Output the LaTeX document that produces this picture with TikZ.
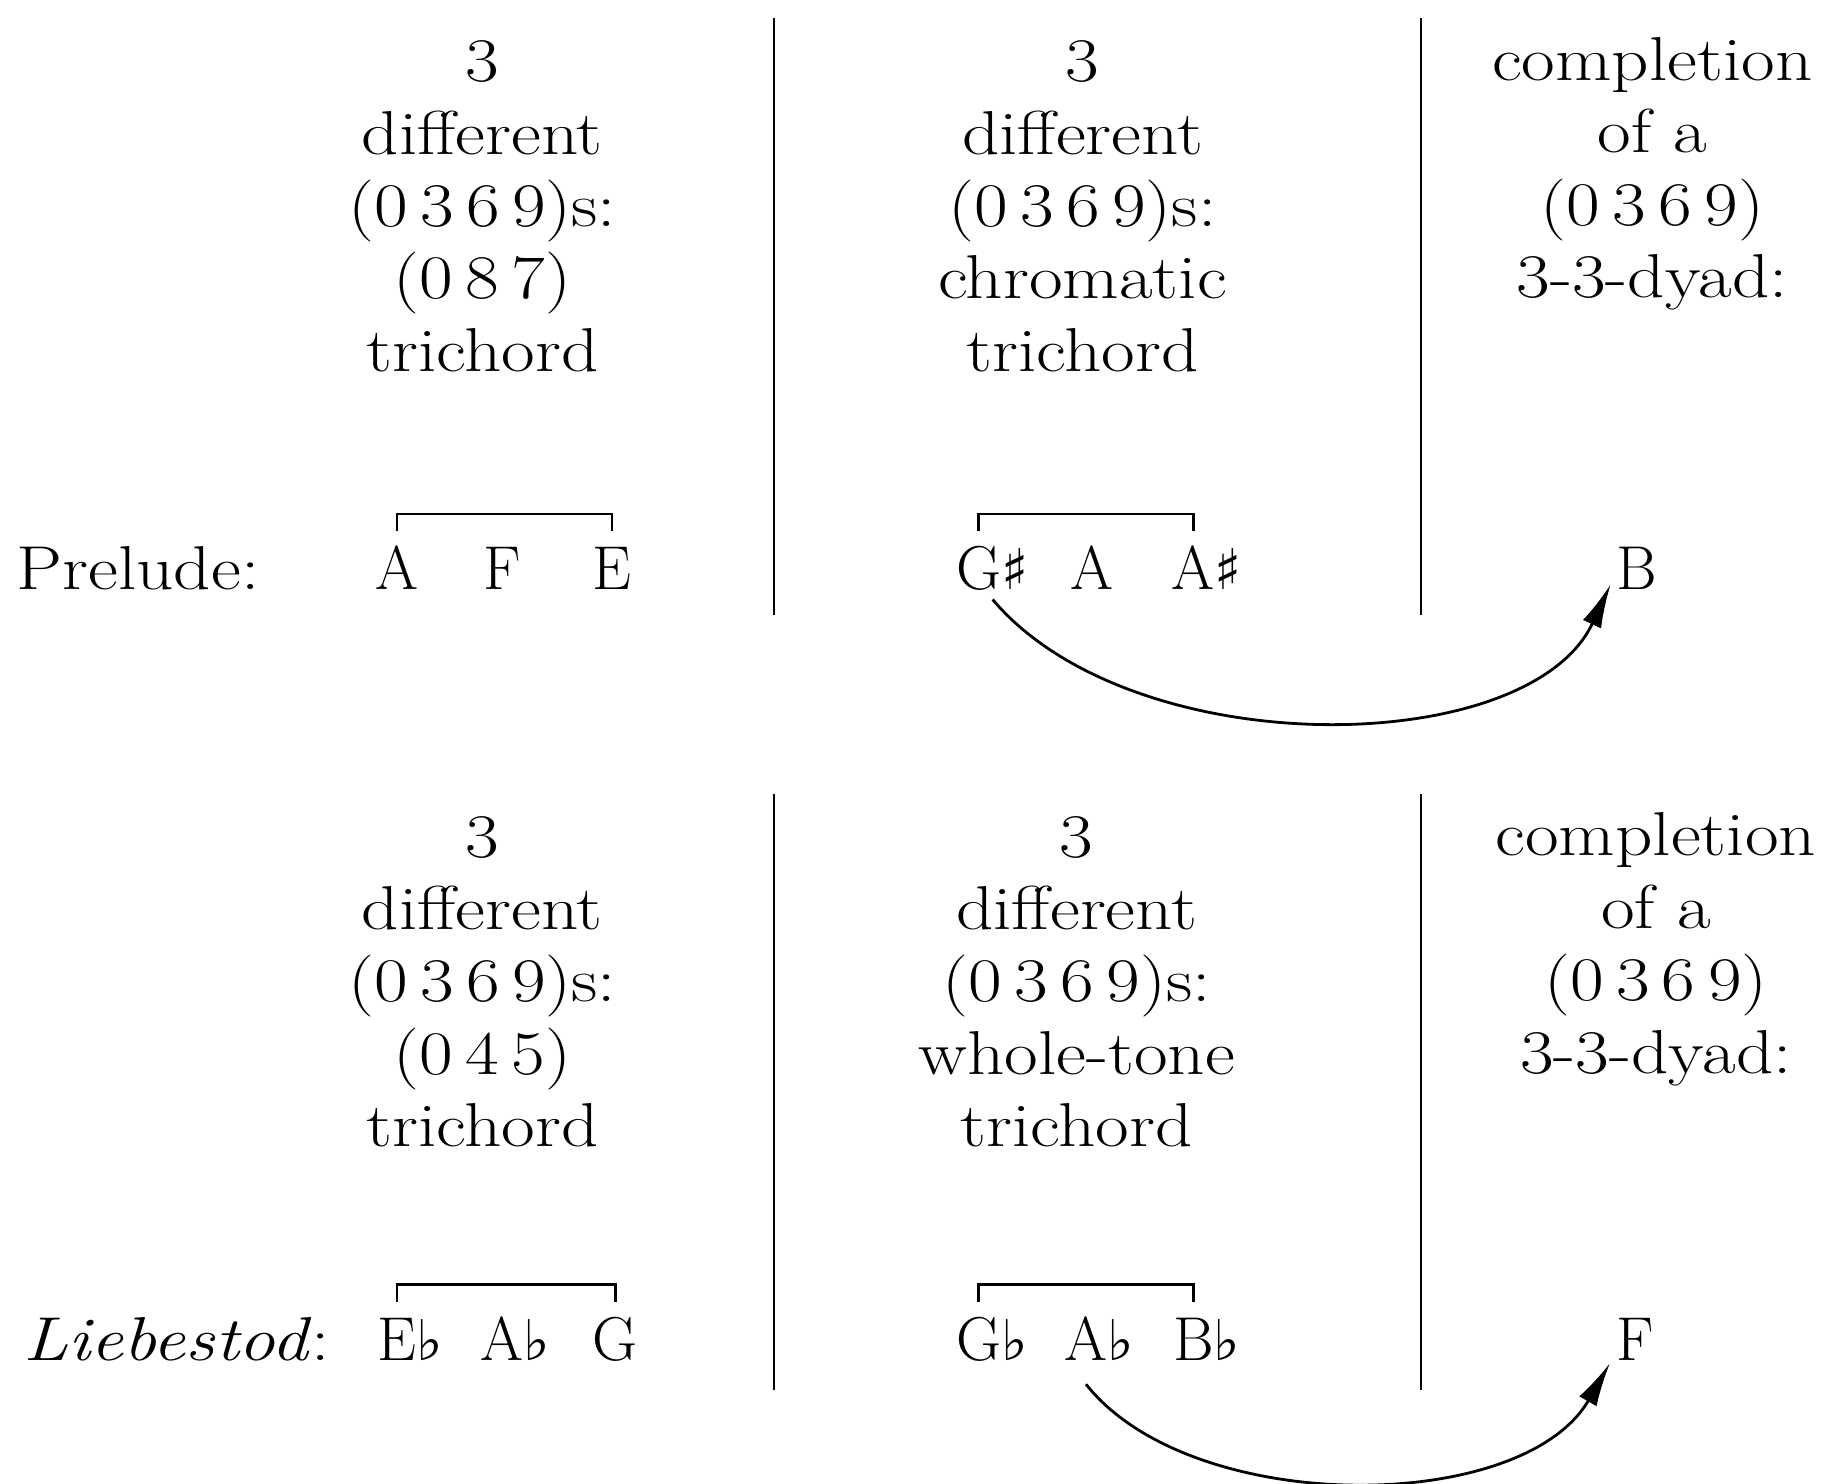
\documentclass[tikz,border=0pt]{standalone}
\usepackage{fontspec}
\newfontfamily\accfont{DejaVu Sans}
\newfontfamily\widerm{Latin Modern Roman}[FakeStretch=1.18]
\usetikzlibrary{arrows.meta}
\newcommand{\shp}{\rlap{\accfont\fontsize{28}{28}\selectfont ♯}}
\newcommand{\flt}{\rlap{\accfont\fontsize{28}{28}\selectfont ♭}}
\newcommand{\widefont}{\widerm\fontsize{31}{36.2}\selectfont}
\newcommand{\dsp}{\hspace{0.2em}}
\begin{document}
\begin{tikzpicture}[x=0.58385pt,y=-0.58385pt,
  lbl/.style={align=center,inner sep=0pt,font=\widefont,anchor=base},
  note/.style={inner sep=0pt,font=\fontsize{31}{36.2}\selectfont,anchor=base,text height=29pt,text depth=0pt},
  rowlbl/.style={inner sep=0pt,font=\widefont,anchor=base west},
  divider/.style={line width=1pt},
  brk/.style={line width=1.1pt},
  arr/.style={line width=1.4pt,-{Latex[length=22pt,width=10pt]}}]
\path[use as bounding box] (0,0) rectangle (1568,1270);
% column labels, top
\node[lbl] (t1) at (413,318) {3\\different\\(0\dsp3\dsp6\dsp9)s:\\(0\dsp8\dsp7)\\trichord};
\node[lbl] (t2) at (927,318) {3\\different\\(0\dsp3\dsp6\dsp9)s:\\chromatic\\trichord};
\node[lbl] (t3) at (1415,255) {completion\\of a\\(0\dsp3\dsp6\dsp9)\\3-3-dyad:};
% column labels, bottom
\node[lbl] (b1) at (413,982) {3\\different\\(0\dsp3\dsp6\dsp9)s:\\(0\dsp4\dsp5)\\trichord};
\node[lbl] (b2) at (922,982) {3\\different\\(0\dsp3\dsp6\dsp9)s:\\whole-tone\\trichord};
\node[lbl] (b3) at (1418,919) {completion\\of a\\(0\dsp3\dsp6\dsp9)\\3-3-dyad:};
% dividers
\draw[divider] (663,15) -- (663,527);
\draw[divider] (1217,15) -- (1217,527);
\draw[divider] (663,680) -- (663,1190);
\draw[divider] (1217,680) -- (1217,1190);
% Prelude row
\node[rowlbl] (pre) at (14,505) {Prelude:};
\node[note] (a1) at (340,505) {A};
\node[note] (f1) at (430,505) {F};
\node[note] (e1) at (524,505) {E};
\node[note] (gs) at (838,505) {G\shp};
\node[note] (a2) at (935,505) {A};
\node[note] (as) at (1022,505) {A\shp};
\node[note] (bn) at (1402,505) {B};
\draw[brk] (a1.north) -- ++(0,-15) -| (e1.north);
\draw[brk] (gs.north) -- ++(0,-15) -| (as.north);
\draw[arr] ([shift={(12,8)}]gs.south) .. controls +(120,142) and +(-70,150) .. ([shift={(-5,-5)}]bn.south west);
% Liebestod row
\node[rowlbl] (lieb) at (20,1165) {\textit{Liebestod}:};
\node[note] (eb) at (340,1165) {E\flt};
\node[note] (ab1) at (430,1165) {A\flt};
\node[note] (g1) at (527,1165) {G};
\node[note] (gb) at (838,1165) {G\flt};
\node[note] (ab2) at (930,1165) {A\flt};
\node[note] (bb) at (1022,1165) {B\flt};
\node[note] (fn) at (1400,1165) {F};
\draw[brk] (eb.north) -- ++(0,-15) -| (g1.north);
\draw[brk] (gb.north) -- ++(0,-15) -| (bb.north);
\draw[arr] ([shift={(0,20)}]ab2.south) .. controls +(90,114) and +(-75,130) .. ([shift={(-5,2)}]fn.south west);
\end{tikzpicture}
\end{document}
